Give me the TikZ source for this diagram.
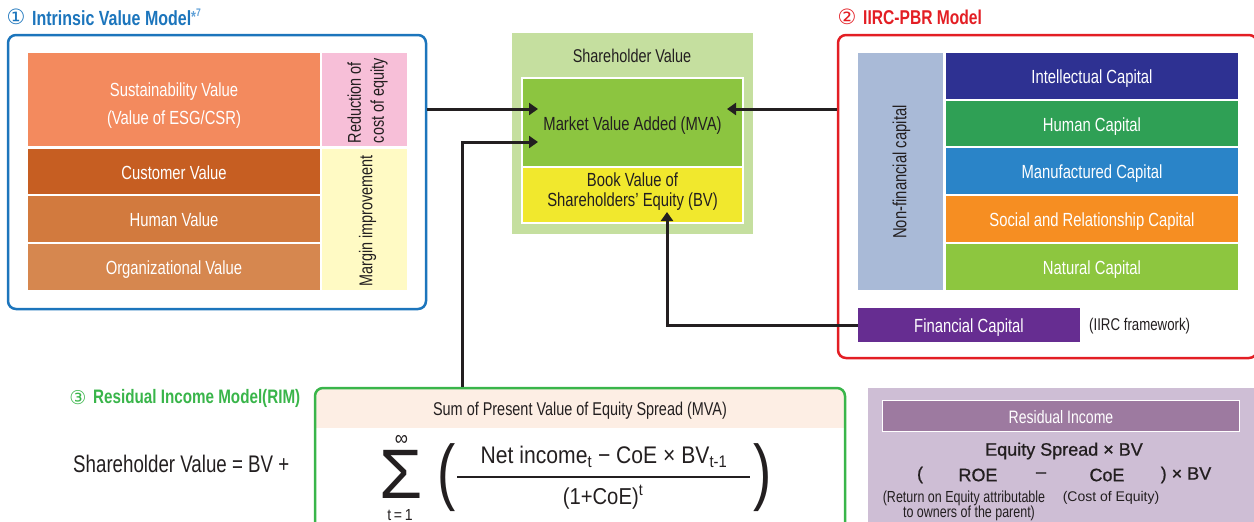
\documentclass[tikz,border=0pt]{standalone}
\usepackage{fontspec}
\usepackage{graphicx}
\setmainfont[FakeStretch=0.78]{Liberation Sans}
\newfontfamily\widefont{Liberation Sans}
\newfontfamily\medfont[FakeBold=0.8]{Liberation Sans}
\newfontfamily\formfont[FakeStretch=0.88]{Liberation Sans}
\newfontfamily\circfont{DejaVu Sans}
\usetikzlibrary{arrows.meta}

\newcommand\sz[2]{\fontsize{#1}{#2}\selectfont}

\definecolor{dark}{RGB}{35,31,32}
\definecolor{ivmblue}{RGB}{28,117,188}
\definecolor{ivmlight}{RGB}{95,160,215}
\definecolor{iirred}{RGB}{227,30,36}
\definecolor{rimgreen}{RGB}{57,181,74}
\definecolor{sustc}{RGB}{243,138,94}
\definecolor{custc}{RGB}{198,94,34}
\definecolor{humvc}{RGB}{210,122,62}
\definecolor{orgc}{RGB}{214,135,79}
\definecolor{pinkc}{RGB}{247,191,216}
\definecolor{lyelc}{RGB}{255,250,196}
\definecolor{svbg}{RGB}{197,223,159}
\definecolor{mvac}{RGB}{140,197,64}
\definecolor{bvc}{RGB}{241,232,45}
\definecolor{nonfc}{RGB}{169,186,215}
\definecolor{intc}{RGB}{46,49,146}
\definecolor{humc}{RGB}{47,160,85}
\definecolor{manc}{RGB}{42,132,200}
\definecolor{socc}{RGB}{246,142,34}
\definecolor{natc}{RGB}{141,198,63}
\definecolor{finc}{RGB}{102,45,145}
\definecolor{bandc}{RGB}{253,238,228}
\definecolor{panelc}{RGB}{206,190,213}
\definecolor{ribarc}{RGB}{157,122,160}

\begin{document}
\begin{tikzpicture}[x=1pt,y=-1pt,
  frame/.style={rectangle, rounded corners=8pt, line width=2.5pt, inner sep=0pt},
  box/.style={rectangle, inner sep=0pt},
  cell/.style={box, text=white, font=\sz{19}{22}, text height=15pt, text depth=0pt},
  darkcell/.style={cell, text=dark},
  label/.style={inner sep=0pt, text=dark},
  vlabel/.style={label, rotate=90, font=\sz{18.5}{23}, align=left},
  arr/.style={line width=3pt, draw=dark, -{Triangle[length=9pt,width=12pt]}},
]
\useasboundingbox (0,0) rectangle (1254,522);
\clip (0,0) rectangle (1254,522);

% ---------- (1) Intrinsic value model ----------
\node[label, text=ivmblue, font=\circfont\sz{21}{21}] (c1) at (16,17) {①};
\node[label, anchor=west, text=ivmblue, font=\bfseries\sz{20.5}{20.5}] (t1) at (32,17)
  {Intrinsic Value Model\textcolor{ivmlight}{\sz{16}{16}\raisebox{3pt}{*}\raisebox{9pt}{\sz{11}{11}7}}};
\node[frame, draw=ivmblue, minimum width=418pt, minimum height=274pt] (ivm) at (217,172) {};
\node[box, fill=sustc, minimum width=292pt, minimum height=93pt] (sust) at (174,99.5) {};
\node[label, text=white, align=center, font=\sz{19}{28}] (sustt) at (174,106)
  {Sustainability Value\\(Value of ESG/CSR)};
\node[cell, fill=custc, minimum width=292pt, minimum height=45pt] (cust) at (174,171.5) {Customer Value};
\node[cell, fill=humvc, minimum width=292pt, minimum height=46pt] (humv) at (174,219) {Human Value};
\node[cell, fill=orgc, minimum width=292pt, minimum height=46pt] (orgv) at (174,267) {Organizational Value};
\node[box, fill=pinkc, minimum width=85pt, minimum height=93pt] (coe) at (364.5,99.5) {};
\node[vlabel] (coet) at (367.5,100.5) {Reduction of\\cost of equity};
\node[box, fill=lyelc, minimum width=85pt, minimum height=141pt] (margin) at (364.5,219.5) {};
\node[vlabel] (margint) at (367.5,221) {Margin improvement};

% ---------- Shareholder value ----------
\node[box, fill=svbg, minimum width=241pt, minimum height=201pt] (sv) at (632.5,133.5) {};
\node[label, font=\sz{18.5}{18.5}] (svt) at (632,56) {Shareholder Value};
\node[darkcell, fill=mvac, draw=white, line width=2pt, minimum width=221pt, minimum height=89pt] (mva) at (632.5,122.5)
  {Market Value Added (MVA)};
\node[box, fill=bvc, draw=white, line width=2pt, minimum width=221pt, minimum height=56pt] (bv) at (632.5,195) {};
\node[label, align=center, font=\sz{19}{20}] (bvt) at (632.5,192)
  {Book Value of\\Shareholders’ Equity (BV)};

% ---------- (2) IIRC-PBR model ----------
\node[label, text=iirred, font=\circfont\sz{21}{21}] (c2) at (847,17) {②};
\node[label, anchor=west, text=iirred, font=\bfseries\sz{20}{20}] (t2) at (863,17) {IIRC-PBR Model};
\node[frame, draw=iirred, minimum width=419pt, minimum height=323pt] (iirc) at (1047.5,196.5) {};
\node[box, fill=nonfc, minimum width=85pt, minimum height=237pt] (nonf) at (900.5,171.5) {};
\node[vlabel, font=\sz{19}{22}] (nonft) at (901.5,172) {Non-financial capital};
\node[cell, fill=intc, minimum width=292pt, minimum height=46pt] (intel) at (1092,76) {Intellectual Capital};
\node[cell, fill=humc, minimum width=292pt, minimum height=45pt] (humcap) at (1092,123.5) {Human Capital};
\node[cell, fill=manc, minimum width=292pt, minimum height=46pt] (manu) at (1092,171) {Manufactured Capital};
\node[cell, fill=socc, minimum width=292pt, minimum height=46pt] (soc) at (1092,219) {Social and Relationship Capital};
\node[cell, fill=natc, minimum width=292pt, minimum height=46pt] (nat) at (1092,267) {Natural Capital};
\node[cell, fill=finc, minimum width=222pt, minimum height=34pt] (fin) at (969,325) {Financial Capital};
\node[label, anchor=west, font=\sz{17}{17}] (fw) at (1089,326.5) {(IIRC framework)};

% ---------- (3) Residual income model ----------
\node[label, text=rimgreen, font=\circfont\sz{19}{19}] (c3) at (78,398) {③};
\node[label, anchor=west, text=rimgreen, font=\bfseries\sz{19.5}{19.5}] (t3) at (93,398) {Residual Income Model(RIM)};
\begin{scope}
  \clip[rounded corners=8pt] (315,388) rectangle (845,535);
  \fill[bandc] (315,388) rectangle (845,428);
\end{scope}
\node[frame, draw=rimgreen, minimum width=530pt, minimum height=147pt] (rim) at (580,461.5) {};
\node[label, font=\sz{18.5}{18.5}] (spread) at (580,411) {Sum of Present Value of Equity Spread (MVA)};

\node[label, anchor=west, font=\sz{24}{24}] (sveq) at (73,464) {Shareholder Value = BV +};
\node[label, font=\widefont\sz{70}{70}] (sigma) at (401,474.5) {Σ};
\node[label, font=\formfont\sz{21}{21}] (inf) at (401.5,440) {∞};
\node[label, font=\formfont\sz{16}{16}] (lower) at (400,515) {t\,=\,1};
\node[label, font=\widefont\sz{73}{73}] (lpar) at (446.5,477.5) {\scalebox{0.75}[1]{(}};
\node[label, font=\widefont\sz{73}{73}] (rpar) at (763,477.5) {\scalebox{0.75}[1]{)}};
\node[label, font=\formfont\sz{24}{24}] (num) at (604,457)
  {Net income\textsubscript{t} − CoE × BV\textsubscript{t-1}};
\node[label, font=\formfont\sz{23}{23}] (den) at (603,497) {(1+CoE)\textsuperscript{t}};
\draw[line width=1.5pt, dark] (457,477) -- (750,477);

% ---------- Residual income panel ----------
\node[box, fill=panelc, minimum width=392pt, minimum height=142pt] (ripanel) at (1064,459) {};
\node[cell, fill=ribarc, draw=white, line width=1.5pt, minimum width=357pt, minimum height=31pt, font=\sz{18}{18}, text height=14pt] (ribar) at (1061,416)
  {Residual Income};
\node[label, font=\medfont\sz{18}{18}] (es) at (1064,451) {Equity Spread × BV};
\node[label, font=\medfont\sz{18}{18}] (lp) at (920,475) {(};
\node[label, font=\medfont\sz{18}{18}] (roe) at (978,475) {ROE};
\node[label, font=\medfont\sz{18}{18}] (minus) at (1041,475) {–};
\node[label, font=\medfont\sz{18}{18}] (coeq) at (1107,475) {CoE};
\node[label, font=\medfont\sz{18}{18}] (rp) at (1186,475) {) × BV};
\node[label, font=\sz{16}{16}] (roel1) at (964,498) {(Return on Equity attributable};
\node[label, font=\sz{16}{16}] (roel2) at (969,513) {to owners of the parent)};
\node[label, font=\widefont\sz{14}{14}] (coel) at (1111,498) {(Cost of Equity)};

% ---------- Connectors ----------
\coordinate (inA) at (538,109);
\coordinate (inB) at (538,142);
\coordinate (inC) at (727,109);
\coordinate (inD) at (667,212);
\coordinate (riser) at (462,300);
\draw[arr] (ivm.east |- inA) -- (inA);
\draw[arr] (rim.north -| riser) |- (inB);
\draw[arr] (iirc.west |- inC) -- (inC);
\draw[arr] (fin.west) -| (inD);
\end{tikzpicture}
\end{document}
